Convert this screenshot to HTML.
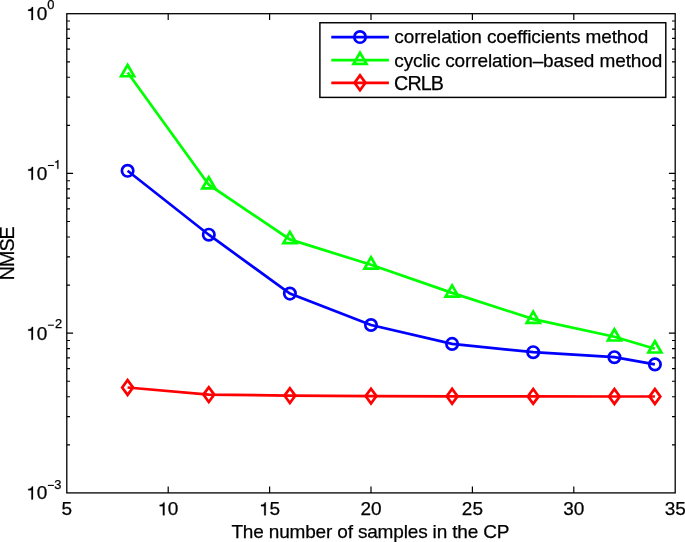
<!DOCTYPE html>
<html><head><meta charset="utf-8"><title>NMSE</title>
<style>
html,body{margin:0;padding:0;background:#fff;width:685px;height:542px;overflow:hidden;}
svg{display:block;will-change:transform;}
text{font-family:"Liberation Sans",sans-serif;fill:#000;}
</style></head>
<body>
<svg width="685" height="542" viewBox="0 0 685 542">
<rect x="0" y="0" width="685" height="542" fill="#fff"/>
<path d="M168.20 492.90V486.60M168.20 13.70V20.00M269.60 492.90V486.60M269.60 13.70V20.00M371.00 492.90V486.60M371.00 13.70V20.00M472.40 492.90V486.60M472.40 13.70V20.00M573.80 492.90V486.60M573.80 13.70V20.00M66.80 333.17H73.10M675.20 333.17H668.90M66.80 173.43H73.10M675.20 173.43H668.90M66.80 444.82H70.00M675.20 444.82H672.00M66.80 416.69H70.00M675.20 416.69H672.00M66.80 396.73H70.00M675.20 396.73H672.00M66.80 381.25H70.00M675.20 381.25H672.00M66.80 368.60H70.00M675.20 368.60H672.00M66.80 357.91H70.00M675.20 357.91H672.00M66.80 348.65H70.00M675.20 348.65H672.00M66.80 340.48H70.00M675.20 340.48H672.00M66.80 285.08H70.00M675.20 285.08H672.00M66.80 256.95H70.00M675.20 256.95H672.00M66.80 237.00H70.00M675.20 237.00H672.00M66.80 221.52H70.00M675.20 221.52H672.00M66.80 208.87H70.00M675.20 208.87H672.00M66.80 198.18H70.00M675.20 198.18H672.00M66.80 188.91H70.00M675.20 188.91H672.00M66.80 180.74H70.00M675.20 180.74H672.00M66.80 125.35H70.00M675.20 125.35H672.00M66.80 97.22H70.00M675.20 97.22H672.00M66.80 77.26H70.00M675.20 77.26H672.00M66.80 61.78H70.00M675.20 61.78H672.00M66.80 49.14H70.00M675.20 49.14H672.00M66.80 38.44H70.00M675.20 38.44H672.00M66.80 29.18H70.00M675.20 29.18H672.00M66.80 21.01H70.00M675.20 21.01H672.00" stroke="#000" stroke-width="1.2" fill="none"/>
<rect x="66.8" y="13.7" width="608.40" height="479.20" fill="none" stroke="#000" stroke-width="1.3"/>
<polyline points="127.60,170.80 208.80,234.70 289.90,293.60 371.00,325.00 452.10,343.90 533.20,352.20 614.40,357.20 654.90,364.40" fill="none" stroke="#0000ff" stroke-width="2.7" stroke-linejoin="miter" stroke-linecap="butt"/>
<circle cx="127.60" cy="170.80" r="5.7" fill="none" stroke="#0000ff" stroke-width="2.7"/>
<circle cx="208.80" cy="234.70" r="5.7" fill="none" stroke="#0000ff" stroke-width="2.7"/>
<circle cx="289.90" cy="293.60" r="5.7" fill="none" stroke="#0000ff" stroke-width="2.7"/>
<circle cx="371.00" cy="325.00" r="5.7" fill="none" stroke="#0000ff" stroke-width="2.7"/>
<circle cx="452.10" cy="343.90" r="5.7" fill="none" stroke="#0000ff" stroke-width="2.7"/>
<circle cx="533.20" cy="352.20" r="5.7" fill="none" stroke="#0000ff" stroke-width="2.7"/>
<circle cx="614.40" cy="357.20" r="5.7" fill="none" stroke="#0000ff" stroke-width="2.7"/>
<circle cx="654.90" cy="364.40" r="5.7" fill="none" stroke="#0000ff" stroke-width="2.7"/>
<polyline points="127.60,72.50 208.80,184.70 289.90,239.40 371.00,264.80 452.10,292.85 533.20,319.10 614.40,336.75 654.90,348.75" fill="none" stroke="#00ff00" stroke-width="2.7" stroke-linejoin="miter" stroke-linecap="butt"/>
<path d="M127.60 65.00L134.10 76.25L121.10 76.25Z" fill="none" stroke="#00ff00" stroke-width="2.7" stroke-linejoin="miter"/>
<path d="M208.80 177.20L215.30 188.45L202.30 188.45Z" fill="none" stroke="#00ff00" stroke-width="2.7" stroke-linejoin="miter"/>
<path d="M289.90 231.90L296.40 243.15L283.40 243.15Z" fill="none" stroke="#00ff00" stroke-width="2.7" stroke-linejoin="miter"/>
<path d="M371.00 257.30L377.50 268.55L364.50 268.55Z" fill="none" stroke="#00ff00" stroke-width="2.7" stroke-linejoin="miter"/>
<path d="M452.10 285.35L458.60 296.60L445.60 296.60Z" fill="none" stroke="#00ff00" stroke-width="2.7" stroke-linejoin="miter"/>
<path d="M533.20 311.60L539.70 322.85L526.70 322.85Z" fill="none" stroke="#00ff00" stroke-width="2.7" stroke-linejoin="miter"/>
<path d="M614.40 329.25L620.90 340.50L607.90 340.50Z" fill="none" stroke="#00ff00" stroke-width="2.7" stroke-linejoin="miter"/>
<path d="M654.90 341.25L661.40 352.50L648.40 352.50Z" fill="none" stroke="#00ff00" stroke-width="2.7" stroke-linejoin="miter"/>
<polyline points="127.60,387.50 208.80,394.60 289.90,395.60 371.00,396.10 452.10,396.30 533.20,396.40 614.40,396.50 654.90,396.50" fill="none" stroke="#ff0000" stroke-width="2.7" stroke-linejoin="miter" stroke-linecap="butt"/>
<path d="M127.60 380.10L133.00 387.50L127.60 394.90L122.20 387.50Z" fill="none" stroke="#ff0000" stroke-width="2.7" stroke-linejoin="miter"/>
<path d="M208.80 387.20L214.20 394.60L208.80 402.00L203.40 394.60Z" fill="none" stroke="#ff0000" stroke-width="2.7" stroke-linejoin="miter"/>
<path d="M289.90 388.20L295.30 395.60L289.90 403.00L284.50 395.60Z" fill="none" stroke="#ff0000" stroke-width="2.7" stroke-linejoin="miter"/>
<path d="M371.00 388.70L376.40 396.10L371.00 403.50L365.60 396.10Z" fill="none" stroke="#ff0000" stroke-width="2.7" stroke-linejoin="miter"/>
<path d="M452.10 388.90L457.50 396.30L452.10 403.70L446.70 396.30Z" fill="none" stroke="#ff0000" stroke-width="2.7" stroke-linejoin="miter"/>
<path d="M533.20 389.00L538.60 396.40L533.20 403.80L527.80 396.40Z" fill="none" stroke="#ff0000" stroke-width="2.7" stroke-linejoin="miter"/>
<path d="M614.40 389.10L619.80 396.50L614.40 403.90L609.00 396.50Z" fill="none" stroke="#ff0000" stroke-width="2.7" stroke-linejoin="miter"/>
<path d="M654.90 389.10L660.30 396.50L654.90 403.90L649.50 396.50Z" fill="none" stroke="#ff0000" stroke-width="2.7" stroke-linejoin="miter"/>
<rect x="319.9" y="22.75" width="345.90" height="74.65" fill="#fff" stroke="#000" stroke-width="1.45"/>
<path d="M331.3 37.06H388.9" stroke="#0000ff" stroke-width="2.7"/>
<circle cx="360.00" cy="37.06" r="5.7" fill="none" stroke="#0000ff" stroke-width="2.7"/>
<path d="M331.3 60.1H388.9" stroke="#00ff00" stroke-width="2.7"/>
<path d="M360.00 52.60L366.50 63.85L353.50 63.85Z" fill="none" stroke="#00ff00" stroke-width="2.7" stroke-linejoin="miter"/>
<path d="M331.3 82.8H388.9" stroke="#ff0000" stroke-width="2.7"/>
<path d="M360.00 75.40L365.40 82.80L360.00 90.20L354.60 82.80Z" fill="none" stroke="#ff0000" stroke-width="2.7" stroke-linejoin="miter"/>
<g font-size="19" stroke="#000" stroke-width="0.25">
<text x="394.3" y="43.4" font-size="19" textLength="254" lengthAdjust="spacing">correlation coefficients method</text>
<text x="394.3" y="66.6" font-size="19" textLength="268" lengthAdjust="spacing">cyclic correlation–based method</text>
<text x="394.0" y="89.6" font-size="19.7" textLength="50" lengthAdjust="spacing">CRLB</text>
<text x="66.80" y="515.3" text-anchor="middle">5</text>
<text x="371.00" y="515.3" text-anchor="middle">20</text>
<text x="472.40" y="515.3" text-anchor="middle">25</text>
<text x="573.80" y="515.3" text-anchor="middle">30</text>
<text x="675.20" y="515.3" text-anchor="middle">35</text>
<text x="167.86" y="515.3">0</text>
<text x="269.5" y="515.3">5</text>
<text x="231.4" y="537.7" font-size="19" textLength="278" lengthAdjust="spacing">The number of samples in the CP</text>
<text x="36.86" y="20.0">0</text>
<text x="47.2" y="8.6" font-size="12.9">0</text>
<text x="36.86" y="179.8">0</text>
<rect x="47.9" y="164.95" width="6.0" height="1.1" stroke="none"/>
<text x="36.86" y="339.8">0</text>
<rect x="47.9" y="324.65" width="6.0" height="1.1" stroke="none"/>
<text x="54.9" y="328.1" font-size="12.9">2</text>
<text x="36.86" y="499.4">0</text>
<rect x="47.9" y="484.85" width="6.0" height="1.1" stroke="none"/>
<text x="54.3" y="488.6" font-size="12.9">3</text>
<path d="M164.50 515.30V502.40H163.50C163.10 503.70 161.90 504.70 159.70 504.80V506.20H162.90V515.30ZM265.80 515.30V502.40H264.80C264.40 503.70 263.20 504.70 261.00 504.80V506.20H264.20V515.30ZM33.00 20.00V7.10H32.00C31.60 8.40 30.40 9.40 28.20 9.50V10.90H31.40V20.00ZM33.00 179.80V166.90H32.00C31.60 168.20 30.40 169.20 28.20 169.30V170.70H31.40V179.80ZM58.39 168.80V160.04H57.71C57.44 160.92 56.62 161.60 55.13 161.67V162.62H57.30V168.80ZM33.00 339.80V326.90H32.00C31.60 328.20 30.40 329.20 28.20 329.30V330.70H31.40V339.80ZM33.00 499.40V486.50H32.00C31.60 487.80 30.40 488.80 28.20 488.90V490.30H31.40V499.40Z"/>
<text transform="translate(13.9 253.3) rotate(-90)" text-anchor="middle" font-size="19.7" textLength="54" lengthAdjust="spacing">NMSE</text>
</g>
</svg>
</body></html>
